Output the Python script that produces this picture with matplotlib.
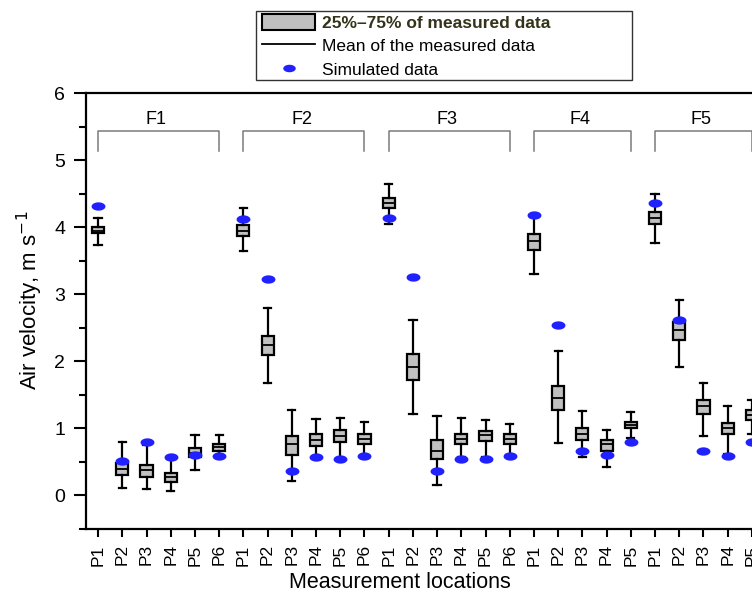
import numpy as np
import matplotlib
matplotlib.use("Agg")
import matplotlib.pyplot as plt
from matplotlib.path import Path
from matplotlib.patches import Patch, Rectangle
from matplotlib.lines import Line2D
from matplotlib.ticker import MultipleLocator

plt.rcParams['font.family'] = ['Liberation Sans', 'DejaVu Sans']

groups = ["F1", "F2", "F3", "F4", "F5"]
group_sizes = [6, 6, 6, 5, 5]
tick_labels = ["P1", "P2", "P3", "P4", "P5", "P6",
               "P1", "P2", "P3", "P4", "P5", "P6",
               "P1", "P2", "P3", "P4", "P5", "P6",
               "P1", "P2", "P3", "P4", "P5",
               "P1", "P2", "P3", "P4", "P5"]

q1 = [3.91, 0.31, 0.27, 0.20, 0.57, 0.67,
      3.87, 2.09, 0.61, 0.74, 0.80, 0.77,
      4.28, 1.72, 0.55, 0.76, 0.81, 0.76,
      3.66, 1.28, 0.82, 0.67, 1.00,
      4.04, 2.32, 1.21, 0.92, 1.13]
q3 = [4.00, 0.48, 0.46, 0.33, 0.71, 0.77,
      4.03, 2.38, 0.89, 0.92, 0.97, 0.91,
      4.44, 2.11, 0.82, 0.92, 0.96, 0.91,
      3.90, 1.63, 1.00, 0.83, 1.09,
      4.23, 2.59, 1.43, 1.08, 1.27]
mean = [3.95, 0.40, 0.38, 0.27, 0.64, 0.72,
        3.95, 2.25, 0.77, 0.83, 0.885, 0.84,
        4.36, 1.91, 0.67, 0.84, 0.90, 0.84,
        3.79, 1.45, 0.91, 0.76, 1.045,
        4.14, 2.46, 1.33, 1.00, 1.20]
whisk_lo = [3.74, 0.11, 0.10, 0.06, 0.38, 0.57,
            3.65, 1.67, 0.22, 0.55, 0.55, 0.58,
            4.04, 1.22, 0.16, 0.57, 0.58, 0.60,
            3.30, 0.78, 0.57, 0.42, 0.85,
            3.77, 1.91, 0.88, 0.62, 0.92]
whisk_hi = [4.13, 0.79, 0.75, 0.55, 0.90, 0.90,
            4.28, 2.79, 1.27, 1.14, 1.16, 1.09,
            4.65, 2.61, 1.19, 1.16, 1.12, 1.07,
            4.15, 2.16, 1.26, 0.98, 1.24,
            4.49, 2.91, 1.68, 1.33, 1.43]
simulated = [4.32, 0.51, 0.80, 0.58, 0.61, 0.59,
             4.12, 3.22, 0.36, 0.57, 0.55, 0.59,
             4.14, 3.26, 0.37, 0.55, 0.55, 0.59,
             4.18, 2.54, 0.66, 0.60, 0.80,
             4.36, 2.61, 0.66, 0.59, 0.80]

positions = np.arange(1, len(tick_labels) + 1)

W, H = 752, 601
fig = plt.figure(figsize=(W / 100, H / 100), dpi=100)
ax = fig.add_axes([86 / W, 1 - 529 / H, (764 - 86) / W, (529 - 93) / H])

stats = []
for i in range(len(positions)):
    stats.append(dict(med=mean[i], q1=q1[i], q3=q3[i],
                      whislo=whisk_lo[i], whishi=whisk_hi[i], fliers=[]))

ax.bxp(stats, positions=positions, widths=0.5, showfliers=False,
       patch_artist=True, capwidths=0.3,
       boxprops=dict(facecolor='#c0c0c0', edgecolor='black', linewidth=1.6),
       medianprops=dict(color='black', linewidth=1.3),
       whiskerprops=dict(color='black', linewidth=1.6),
       capprops=dict(color='black', linewidth=1.6))

t = np.linspace(0, 2 * np.pi, 60)
ellipse = Path(np.column_stack([np.cos(t), 0.6 * np.sin(t)]), closed=True)
ax.plot(positions, simulated, linestyle='none', marker=ellipse,
        markersize=10, color='#2121ff', markeredgecolor='none', zorder=5)

# group brackets
start = 1
for g, n in zip(groups, group_sizes):
    x0, x1 = start, start + n - 1
    ax.plot([x0, x0, x1, x1], [5.13, 5.44, 5.44, 5.13], color='#7a7a7a',
            linewidth=1.1, clip_on=False)
    ax.text((x0 + x1) / 2 - 0.1, 5.6, g, ha='center', va='center', fontsize=13)
    start += n

ax.set_xlim(0.5, 28.5)
ax.set_ylim(-0.5, 6)
ax.set_xticks(positions)
ax.set_xticklabels(tick_labels, rotation=90, fontsize=12.5)
ax.yaxis.set_major_locator(MultipleLocator(1))
ax.yaxis.set_minor_locator(MultipleLocator(0.5))
ax.tick_params(axis='y', which='major', direction='out', length=9, width=1.5,
               labelsize=14, pad=6)
ax.tick_params(axis='y', which='minor', direction='out', length=5, width=1.5)
ax.tick_params(axis='x', which='major', direction='out', length=6, width=1.5, pad=5)
for s in ['left', 'bottom', 'top', 'right']:
    ax.spines[s].set_linewidth(1.6)

ax.set_ylabel('Air velocity, m s$^{-1}$', fontsize=16)
ax.yaxis.set_label_coords((30 - 86) / (764 - 86), (529 - 300) / (529 - 93))
ax.yaxis.label.set_va('center')
ax.set_xlabel('Measurement locations', fontsize=15.5)
ax.xaxis.set_label_coords((400 - 86) / (764 - 86), (529 - 583) / (529 - 93))
ax.xaxis.label.set_va('center')

# legend
fig.patches.append(Rectangle((256 / W, 1 - 80 / H), (632 - 256) / W, (80 - 11) / H,
                             transform=fig.transFigure, facecolor='white',
                             edgecolor='#333333', linewidth=1.0, zorder=1))
handles = [Patch(facecolor='#c0c0c0', edgecolor='black', linewidth=1.5),
           Line2D([], [], color='black', linewidth=1.3),
           Line2D([], [], linestyle='none', marker=ellipse, markersize=9,
                  color='#2121ff', markeredgecolor='none')]
labels = ['25%\u201375% of measured data', 'Mean of the measured data',
          'Simulated data']
leg = fig.legend(handles, labels, loc='upper left',
                 bbox_to_anchor=(259 / W, 1 - 11 / H), fontsize=12.5,
                 frameon=False, handlelength=3.1, handleheight=1.05,
                 borderpad=0.15, labelspacing=0.38, handletextpad=0.35,
                 borderaxespad=0)
leg.set_zorder(2)
leg.get_texts()[0].set_fontweight('bold')
leg.get_texts()[0].set_color('#33331a')

fig.savefig('out.png', dpi=100)
